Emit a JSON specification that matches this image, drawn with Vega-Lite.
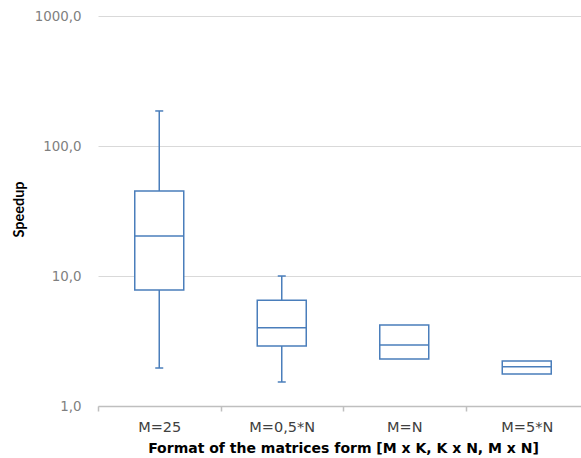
{
  "$schema": "https://vega.github.io/schema/vega-lite/v6.json",
  "autosize": {"type": "none"},
  "padding": {"left": 98, "top": 16, "right": 0, "bottom": 52},
  "width": 483,
  "height": 390,
  "background": "white",
  "config": {
    "locale": {"number": {"decimal": ",", "thousands": ".", "grouping": [3], "currency": ["", ""]}},
    "view": {"stroke": null}
  },
  "data": {
    "values": [
      {"format": "M=25", "lo": 1.96, "q1": 7.8, "med": 20.3, "q3": 45, "hi": 186},
      {"format": "M=0,5*N", "lo": 1.53, "q1": 2.9, "med": 4.0, "q3": 6.5, "hi": 10.0},
      {"format": "M=N", "lo": null, "q1": 2.3, "med": 2.94, "q3": 4.2, "hi": null},
      {"format": "M=5*N", "lo": null, "q1": 1.76, "med": 2.0, "q3": 2.22, "hi": null}
    ]
  },
  "encoding": {
    "x": {
      "field": "format",
      "type": "nominal",
      "sort": null,
      "scale": {"range": [0, 490], "paddingInner": 0, "paddingOuter": 0},
      "axis": {
        "title": "Format of the matrices form [M x K, K x N, M x N]",
        "titleFont": "DejaVu Sans",
        "titleFontSize": 14,
        "titleFontWeight": "bold",
        "titleColor": "#000000",
        "titleX": 245,
        "titlePadding": 8,
        "labelAngle": 0,
        "labelFont": "DejaVu Sans",
        "labelFontSize": 14.5,
        "labelColor": "#404040",
        "labelPadding": 9,
        "tickBand": "extent",
        "tickSize": 5,
        "tickColor": "#bfbfbf",
        "tickWidth": 1.5,
        "domainColor": "#bfbfbf",
        "domainWidth": 1.5,
        "grid": false
      }
    }
  },
  "layer": [
    {
      "mark": {"type": "rule", "color": "#4a7ebb", "strokeWidth": 1.5},
      "encoding": {
        "y": {
          "field": "lo",
          "type": "quantitative",
          "scale": {"type": "log", "domain": [1, 1000], "nice": false},
          "axis": {
            "title": "Speedup",
            "titleFont": "Lato",
            "titleFontSize": 14.5,
            "titleFontWeight": "bold",
            "titleColor": "#000000",
            "titleAngle": -90,
            "titleX": -79,
            "titleY": 193,
            "titleAlign": "center",
            "titleBaseline": "middle",
            "values": [1, 10, 100, 1000],
            "format": ".1f",
            "labelFont": "DejaVu Sans",
            "labelFontSize": 13.4,
            "labelColor": "#7f7f7f",
            "labelPadding": 17,
            "ticks": false,
            "domain": false,
            "grid": true,
            "gridColor": "#d9d9d9",
            "gridWidth": 1
          }
        },
        "y2": {"field": "q1"}
      }
    },
    {
      "mark": {"type": "rule", "color": "#4a7ebb", "strokeWidth": 1.5},
      "encoding": {
        "y": {"field": "q3", "type": "quantitative"},
        "y2": {"field": "hi"}
      }
    },
    {
      "mark": {"type": "tick", "color": "#4a7ebb", "size": 8, "thickness": 1.5, "opacity": 1},
      "encoding": {"y": {"field": "lo", "type": "quantitative"}}
    },
    {
      "mark": {"type": "tick", "color": "#4a7ebb", "size": 8, "thickness": 1.5, "opacity": 1},
      "encoding": {"y": {"field": "hi", "type": "quantitative"}}
    },
    {
      "mark": {"type": "bar", "width": 49, "fill": "white", "stroke": "#4a7ebb", "strokeWidth": 1.5},
      "encoding": {
        "y": {"field": "q1", "type": "quantitative"},
        "y2": {"field": "q3"}
      }
    },
    {
      "mark": {"type": "tick", "color": "#4a7ebb", "size": 49, "thickness": 1.5, "opacity": 1},
      "encoding": {"y": {"field": "med", "type": "quantitative"}}
    }
  ]
}
